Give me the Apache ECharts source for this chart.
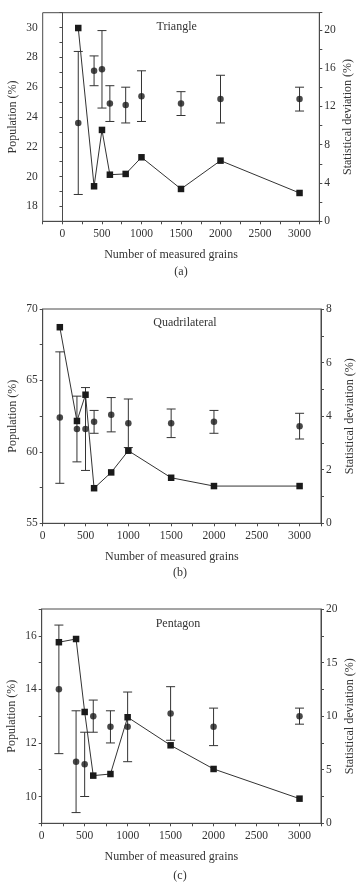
<!DOCTYPE html>
<html>
<head>
<meta charset="utf-8">
<script src="https://cdn.jsdelivr.net/npm/echarts@6/dist/echarts.min.js"></script>
<style>html,body{margin:0;padding:0;background:#fff}#c{width:358px;height:884px}</style>
</head>
<body>
<div id="c"></div>
<script>
const grains = [200, 400, 500, 600, 800, 1000, 1500, 2000, 3000];

const triPop = [23.6, 27.1, 27.2, 24.9, 24.8, 25.4, 24.9, 25.2, 25.2];
const triErr = [4.8, 1.0, 2.6, 1.2, 1.2, 1.7, 0.8, 1.6, 0.8];
const triDev = [20.2, 3.66, 9.55, 4.87, 4.95, 6.69, 3.38, 6.34, 2.96];

const quadPop = [62.4, 61.6, 61.6, 62.1, 62.6, 62.0, 62.0, 62.1, 61.8];
const quadErr = [4.6, 2.3, 2.9, 0.8, 1.2, 1.7, 1.0, 0.8, 0.9];
const quadDev = [7.32, 3.82, 4.8, 1.31, 1.9, 2.71, 1.7, 1.39, 1.39];

const pentPop = [14.0, 11.3, 11.2, 13.0, 12.6, 12.6, 13.1, 12.6, 13.0];
const pentErr = [2.4, 1.9, 1.2, 0.6, 0.6, 1.3, 1.0, 0.7, 0.3];
const pentDev = [16.9, 17.2, 10.39, 4.45, 4.6, 9.9, 7.28, 5.07, 2.3];

const panelNames = ['Triangle', 'Quadrilateral', 'Pentagon'];
const panelTags = ['(a)', '(b)', '(c)'];
const xTitle = 'Number of measured grains';
const yLeftTitle = 'Population (%)';
const yRightTitle = 'Statistical deviation (%)';

const FONT = '"Liberation Serif", "DejaVu Serif", serif';
const TXT = '#333';
const AX = '#4a4a4a';

const panels = [
  {pop: triPop, err: triErr, dev: triDev, xmin: -250, xmax: 3250,
   lmin: 17, lmax: 31, lint: 1, lstep: 2, rmin: 0, rmax: 21.8, rint: 2, rstep: 4,
   grid: {left: 42.7, top: 12.7, width: 276.6, height: 208.6}},
  {pop: quadPop, err: quadErr, dev: quadDev, xmin: 0, xmax: 3250,
   lmin: 55, lmax: 70, lint: 2.5, lstep: 5, rmin: 0, rmax: 8, rint: 1, rstep: 2,
   grid: {left: 42.7, top: 309, width: 278.3, height: 214.3}},
  {pop: pentPop, err: pentErr, dev: pentDev, xmin: 0, xmax: 3250,
   lmin: 9, lmax: 17, lint: 1, lstep: 2, rmin: 0, rmax: 20, rint: 2.5, rstep: 5,
   grid: {left: 41.7, top: 609, width: 279.3, height: 214.3}}
];

function stepFmt(step) {
  return function (v) {
    const r = v / step;
    return Math.abs(r - Math.round(r)) < 1e-6 ? String(v) : '';
  };
}

const grids = [], xAxes = [], yAxes = [], series = [], graphics = [];

panels.forEach((p, i) => {
  grids.push(Object.assign({show: true, borderColor: AX, borderWidth: 1, outerBoundsMode: 'none', containLabel: false}, p.grid));
  xAxes.push({
    type: 'value', gridIndex: i, min: p.xmin, max: p.xmax, interval: 250,
    name: xTitle, nameLocation: 'middle', nameGap: 28, nameMoveOverlap: false,
    nameTextStyle: {fontFamily: FONT, fontSize: 12, color: TXT, padding: [0, 20, 0, 0]},
    axisLine: {show: true, lineStyle: {color: AX, width: 1}},
    axisTick: {show: true, length: 3, lineStyle: {color: AX}},
    axisLabel: {fontFamily: FONT, fontSize: 11.5, color: TXT, margin: 7,
      formatter: v => (v >= 0 && v % 500 === 0) ? String(v) : ''},
    splitLine: {show: false}
  });
  yAxes.push({
    type: 'value', gridIndex: i, position: 'left', min: p.lmin, max: p.lmax, interval: p.lint,
    name: yLeftTitle, nameLocation: 'middle', nameGap: 24, nameRotate: 90, nameMoveOverlap: false,
    nameTextStyle: {fontFamily: FONT, fontSize: 12, color: TXT},
    axisLine: {show: true, lineStyle: {color: AX, width: 1}},
    axisTick: {show: true, length: 3, lineStyle: {color: AX}},
    axisLabel: {fontFamily: FONT, fontSize: 11.5, color: TXT, margin: 5, formatter: stepFmt(p.lstep)},
    splitLine: {show: false}
  });
  yAxes.push({
    type: 'value', gridIndex: i, position: 'right', min: p.rmin, max: p.rmax, interval: p.rint,
    name: yRightTitle, nameLocation: 'middle', nameGap: 23, nameRotate: 90, nameMoveOverlap: false,
    nameTextStyle: {fontFamily: FONT, fontSize: 12, color: TXT},
    axisLine: {show: true, lineStyle: {color: AX, width: 1}},
    axisTick: {show: true, length: 3, lineStyle: {color: AX}},
    axisLabel: {fontFamily: FONT, fontSize: 11.5, color: TXT, margin: 5, formatter: stepFmt(p.rstep)},
    splitLine: {show: false}
  });
  const lIdx = i * 2, rIdx = i * 2 + 1;
  series.push({
    type: 'custom', xAxisIndex: i, yAxisIndex: lIdx, silent: true,
    data: grains.map((g, k) => [g, p.pop[k] - p.err[k], p.pop[k] + p.err[k]]),
    renderItem: function (params, api) {
      const x = api.value(0);
      const top = api.coord([x, api.value(2)]);
      const bot = api.coord([x, api.value(1)]);
      const w = 4.5;
      const st = {stroke: '#333', lineWidth: 1};
      return {type: 'group', children: [
        {type: 'line', shape: {x1: top[0], y1: top[1], x2: bot[0], y2: bot[1]}, style: st},
        {type: 'line', shape: {x1: top[0] - w, y1: top[1], x2: top[0] + w, y2: top[1]}, style: st},
        {type: 'line', shape: {x1: bot[0] - w, y1: bot[1], x2: bot[0] + w, y2: bot[1]}, style: st}
      ]};
    },
    z: 2
  });
  series.push({
    type: 'scatter', xAxisIndex: i, yAxisIndex: lIdx, symbol: 'circle', symbolSize: 6.5,
    itemStyle: {color: '#1a1a1a'}, data: grains.map((g, k) => [g, p.pop[k]]), z: 3
  });
  series.push({
    type: 'line', xAxisIndex: i, yAxisIndex: rIdx, symbol: 'rect', symbolSize: 6.5, showSymbol: true,
    lineStyle: {color: '#333', width: 1}, itemStyle: {color: '#1a1a1a'},
    data: grains.map((g, k) => [g, p.dev[k]]), z: 4, animation: false
  });
});

const nameCenters = [[176.7, 27.3], [185, 323], [178, 624]];
const tagCenters = [[181, 271.7], [180, 573], [180, 876]];
panelNames.forEach((n, i) => {
  graphics.push({type: 'text', x: nameCenters[i][0], y: nameCenters[i][1],
    style: {text: n, fontFamily: FONT, fontSize: 12, fill: TXT, textAlign: 'center', textVerticalAlign: 'middle'}});
  graphics.push({type: 'text', x: tagCenters[i][0], y: tagCenters[i][1],
    style: {text: panelTags[i], fontFamily: FONT, fontSize: 12, fill: TXT, textAlign: 'center', textVerticalAlign: 'middle'}});
});

const chart = echarts.init(document.getElementById('c'), null, {renderer: 'canvas'});
chart.setOption({
  backgroundColor: '#fff',
  animation: false,
  grid: grids, xAxis: xAxes, yAxis: yAxes, series: series, graphic: graphics
});
</script>
</body>
</html>
